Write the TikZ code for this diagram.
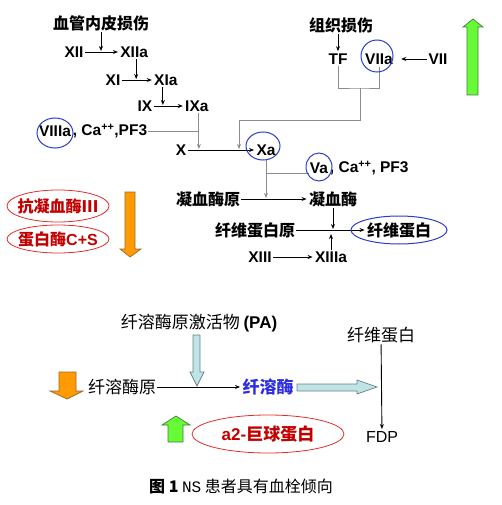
\documentclass[tikz,border=0pt]{standalone}
\usepackage{fontspec}
\setmainfont{Liberation Sans}
\setmonofont{Liberation Mono}
\newfontfamily\cjk{Noto Sans CJK SC}
\usetikzlibrary{arrows.meta, positioning, calc}
\definecolor{ringblue}{RGB}{45,60,200}
\definecolor{ringred}{RGB}{225,45,45}
\definecolor{txtred}{RGB}{195,0,0}
\definecolor{txtblue}{RGB}{45,45,225}
\definecolor{gfill}{RGB}{102,250,55}
\definecolor{gline}{RGB}{70,125,60}
\definecolor{ofill}{RGB}{255,155,0}
\definecolor{oline}{RGB}{155,105,45}
\definecolor{bfill}{RGB}{192,228,230}
\definecolor{bline}{RGB}{100,130,140}

\begin{document}
\begin{tikzpicture}[x=1pt, y=-1pt, >={Stealth[length=5pt,width=4pt]}, shorten >=1pt, line width=0.9pt,
	lt/.style={font=\bfseries\fontsize{15.5}{17}\selectfont, inner sep=1pt},
	cn/.style={font=\cjk\bfseries\fontsize{16}{18}\selectfont, inner sep=1pt},
	cs/.style={font=\cjk\fontsize{17}{19}\selectfont, inner sep=1pt},
	ring/.style={draw=ringblue, line width=1pt},
	redring/.style={draw=ringred, line width=0.8pt},
	link/.style={draw=gray!90},
	garrow/.style={fill=gfill, draw=gline, line width=0.7pt, shorten >=0pt},
	oarrow/.style={fill=ofill, draw=oline, line width=0.7pt, shorten >=0pt},
	barrow/.style={fill=bfill, draw=bline, line width=0.7pt, shorten >=0pt}]
	\useasboundingbox (0,0) rectangle (501,505);
	
	% Intrinsic pathway
	\node[cn] (dmg) at (101,23) {血管内皮损伤};
	\node[lt] (XII) at (74,52) {XII};
	\node[lt, right=34pt of XII] (XIIa) {XIIa};
	\node[lt] (XI) at (113,80) {XI};
	\node[lt, right=31pt of XI] (XIa) {XIa};
	\node[lt] (IX) at (145,106) {IX};
	\node[lt, right=30pt of IX] (IXa) {IXa};
	\node[lt] (VIIIa) at (55,131) {VIIIa};
	\node[lt, anchor=west, inner xsep=0pt] (f8c) at (VIIIa.east) {, Ca\textsuperscript{++},PF3};
	\node[lt] (X) at (181,150) {X};
	\node[lt] (Xa) at (266,150) {Xa};
	\coordinate (ix) at ([xshift=2pt]IXa.south);
	
	% Extrinsic pathway
	\node[cn] (tis) at (341,25) {组织损伤};
	\node[lt] (TF) at (338,59) {TF};
	\node[lt] (VIIa) at (379,59) {VIIa};
	\node[lt] (VII) at (438,59) {VII};
	\coordinate (br) at (360,88);
	\coordinate (tk) at (239,120);
	
	% Common pathway
	\node[lt] (Va) at (319,168) {Va};
	\node[lt, anchor=west, inner xsep=0pt] (f5c) at (Va.east) {, Ca\textsuperscript{++}, PF3};
	\node[cn] (pth) at (208,199) {凝血酶原};
	\node[cn] (thr) at (333,199) {凝血酶};
	\node[cn] (fbg) at (255,230) {纤维蛋白原};
	\node[cn] (fbn) at (399,230) {纤维蛋白};
	\node[lt] (XIII) at (260,257) {XIII};
	\node[lt] (XIIIa) at (331,257) {XIIIa};
	
	% Inhibitors
	\node[cn, text=txtred] (ant) at (58,206) {抗凝血酶III};
	\node[cn, text=txtred] (pcs) at (58,239) {蛋白酶\bfseries\fontspec{Liberation Sans}C+S};
	
	% Fibrinolysis
	\node[cs] (pa) at (199,323) {纤溶酶原激活物 {\bfseries\fontspec{Liberation Sans}(PA)}};
	\node[cs] (plg) at (122,387) {纤溶酶原};
	\node[cs, text=txtblue, font=\cjk\bfseries\fontsize{17}{19}\selectfont] (pls) at (268,387) {纤溶酶};
	\node[cs] (fb2) at (381,335) {纤维蛋白};
	\node[font=\fontsize{16}{18}\selectfont, inner sep=1pt] (fdp) at (382,437) {FDP};
	\node[cs, text=txtred, font=\cjk\bfseries\fontsize{17}{19}\selectfont] (a2m) at (268,434) {{\fontspec{Liberation Sans}a2-}巨球蛋白};
	
	% Caption
	\node[font=\cjk\fontsize{16}{18}\selectfont] (cap) at (241,487) {{\bfseries 图 1} {\ttfamily NS} 患者具有血栓倾向};
	
	% Edges
	\draw[->] (dmg.south) -- (dmg.south |- XII);
	\draw[->] (XII) -- (XIIa);
	\draw[->] ([xshift=2pt]XIIa.south) -- ([xshift=2pt]XIIa.south |- XI);
	\draw[->] (XI) -- (XIa);
	\draw[->] ([xshift=-3pt]XIa.south) -- ([xshift=-3pt]XIa.south |- IX);
	\draw[->] (IX) -- (IXa);
	\draw[->, link] (ix) -- (ix |- Xa);
	\draw[link] (f8c) -- (f8c -| ix);
	\draw[->] (X) -- (Xa);
	\draw[->] (TF.north |- tis.south) -- (TF.north);
	\draw[->, shorten >=7pt] (VII) -- (VIIa);
	\draw[link] (TF.south) |- (br) -| (VIIa.south);
	\draw[->, link] (br) |- (tk) -- (tk |- Xa);
	\draw[link] ([yshift=-5pt]Va.west) -- ([yshift=-5pt]Va.west -| Xa.south);
	\draw[->, link] ([yshift=-3pt]Xa.south) -- (Xa.south |- thr);
	\draw[->] (pth) -- (thr);
	\draw[->] (thr.south) -- (thr.south |- fbn);
	\draw[->] (fbg) -- (fbn);
	\draw[->, shorten >=4pt] (XIIIa.north) -- (XIIIa.north |- fbn);
	\draw[->] (XIII) -- (XIIIa);
	\draw[->] (plg) -- (pls);
	\draw[->] (fb2) -- (fdp);
	
	% Rings
	\draw[ring] ([yshift=-2pt]VIIIa) ellipse [x radius=18, y radius=15];
	\draw[ring] ([shift={(-2,-3)}]VIIa) ellipse [x radius=16, y radius=16];
	\draw[ring] ([shift={(-3,-4)}]Xa) ellipse [x radius=17, y radius=14];
	\draw[ring] ([shift={(0,-1)}]Va) ellipse [x radius=13, y radius=14];
	\draw[ring] (fbn) ellipse [x radius=48, y radius=14];
	\draw[redring] (ant) ellipse [x radius=51, y radius=16];
	\draw[redring] (pcs) ellipse [x radius=51, y radius=14];
	\draw[redring] (a2m) ellipse [x radius=76, y radius=19];
	
	% Block arrows
	\filldraw[garrow] (473,19) -- (483,27) -- (478,27) -- (478,95) -- (467,95) -- (467,27) -- (463,27) -- cycle;
	\filldraw[oarrow] (125,192) -- (135,192) -- (135,249) -- (141,249) -- (130,257) -- (120,249) -- (125,249) -- cycle;
	\filldraw[oarrow] (59,372) -- (76,372) -- (76,391) -- (83,391) -- (67,399) -- (50,391) -- (59,391) -- cycle;
	\filldraw[garrow] (176,416) -- (190,425) -- (183,425) -- (183,442) -- (168,442) -- (168,425) -- (162,425) -- cycle;
	\filldraw[barrow] (193,335) -- (200,335) -- (200,372) -- (204,372) -- (197,386) -- (190,372) -- (193,372) -- cycle;
	\filldraw[barrow] (297,384) -- (357,384) -- (357,380) -- (377,387) -- (357,394) -- (357,391) -- (297,391) -- cycle;
	
\end{tikzpicture}
\end{document}
